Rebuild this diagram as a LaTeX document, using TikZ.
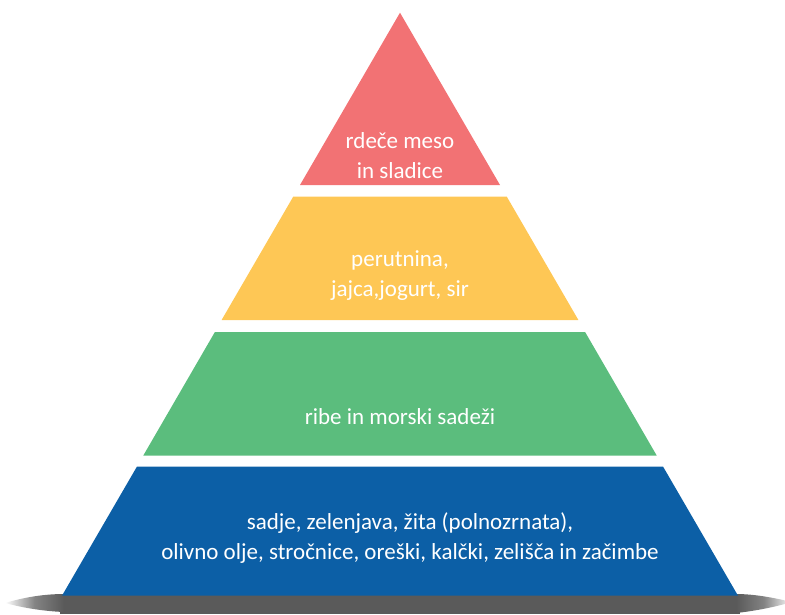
\documentclass[tikz,border=0pt]{standalone}
\usepackage{fontspec}
\setmainfont{Carlito}
\definecolor{pred}{HTML}{F27274}
\definecolor{pyel}{HTML}{FEC755}
\definecolor{pgrn}{HTML}{5BBD7D}
\definecolor{pblu}{HTML}{0C5FA6}
\definecolor{shad}{HTML}{5A5A5A}
\begin{document}
\begin{tikzpicture}[x=1pt,y=-1pt,
  lbl/.style={text=white,align=center,font=\fontsize{23}{30}\selectfont,inner sep=0pt}]
\useasboundingbox (0,0) rectangle (785,614);
% shadow
\fill[shad] (60,594) rectangle (740,614);
\shade[left color=white, right color=shad, middle color=shad!75]
  (5,603) .. controls (25,597) and (45,594) .. (64,594) -- (64,612) .. controls (40,611) and (20,607) .. cycle;
\shade[left color=shad, right color=white, middle color=shad!75]
  (736,594) .. controls (755,594) and (775,598) .. (792,602) .. controls (775,607) and (755,611) .. (736,613) -- cycle;
% layers (apex 400,12.7; dx/dy = -0.5804)
\fill[pred] (400,12.7) -- (500,185) -- (300,185) -- cycle;
\fill[pyel] (293.2,196.7) -- (506.8,196.7) -- (578.4,320) -- (221.6,320) -- cycle;
\fill[pgrn] (214.9,332) -- (585.1,332) -- (656.7,455.5) -- (143.3,455.5) -- cycle;
\fill[pblu] (137.0,466.5) -- (663.0,466.5) -- (737.9,595.5) -- (62.1,595.5) -- cycle;
% labels
\node[lbl] (t1) at (400,156) {rdeče meso\\in sladice};
\node[lbl] (t2) at (400,276) {perutnina,\\jajca,jogurt, sir};
\node[lbl] (t3) at (400,417) {ribe in morski sadeži};
\node[lbl] (t4) at (410,538) {sadje, zelenjava, žita (polnozrnata),\\olivno olje, stročnice, oreški, kalčki, zelišča in začimbe};
\end{tikzpicture}
\end{document}
